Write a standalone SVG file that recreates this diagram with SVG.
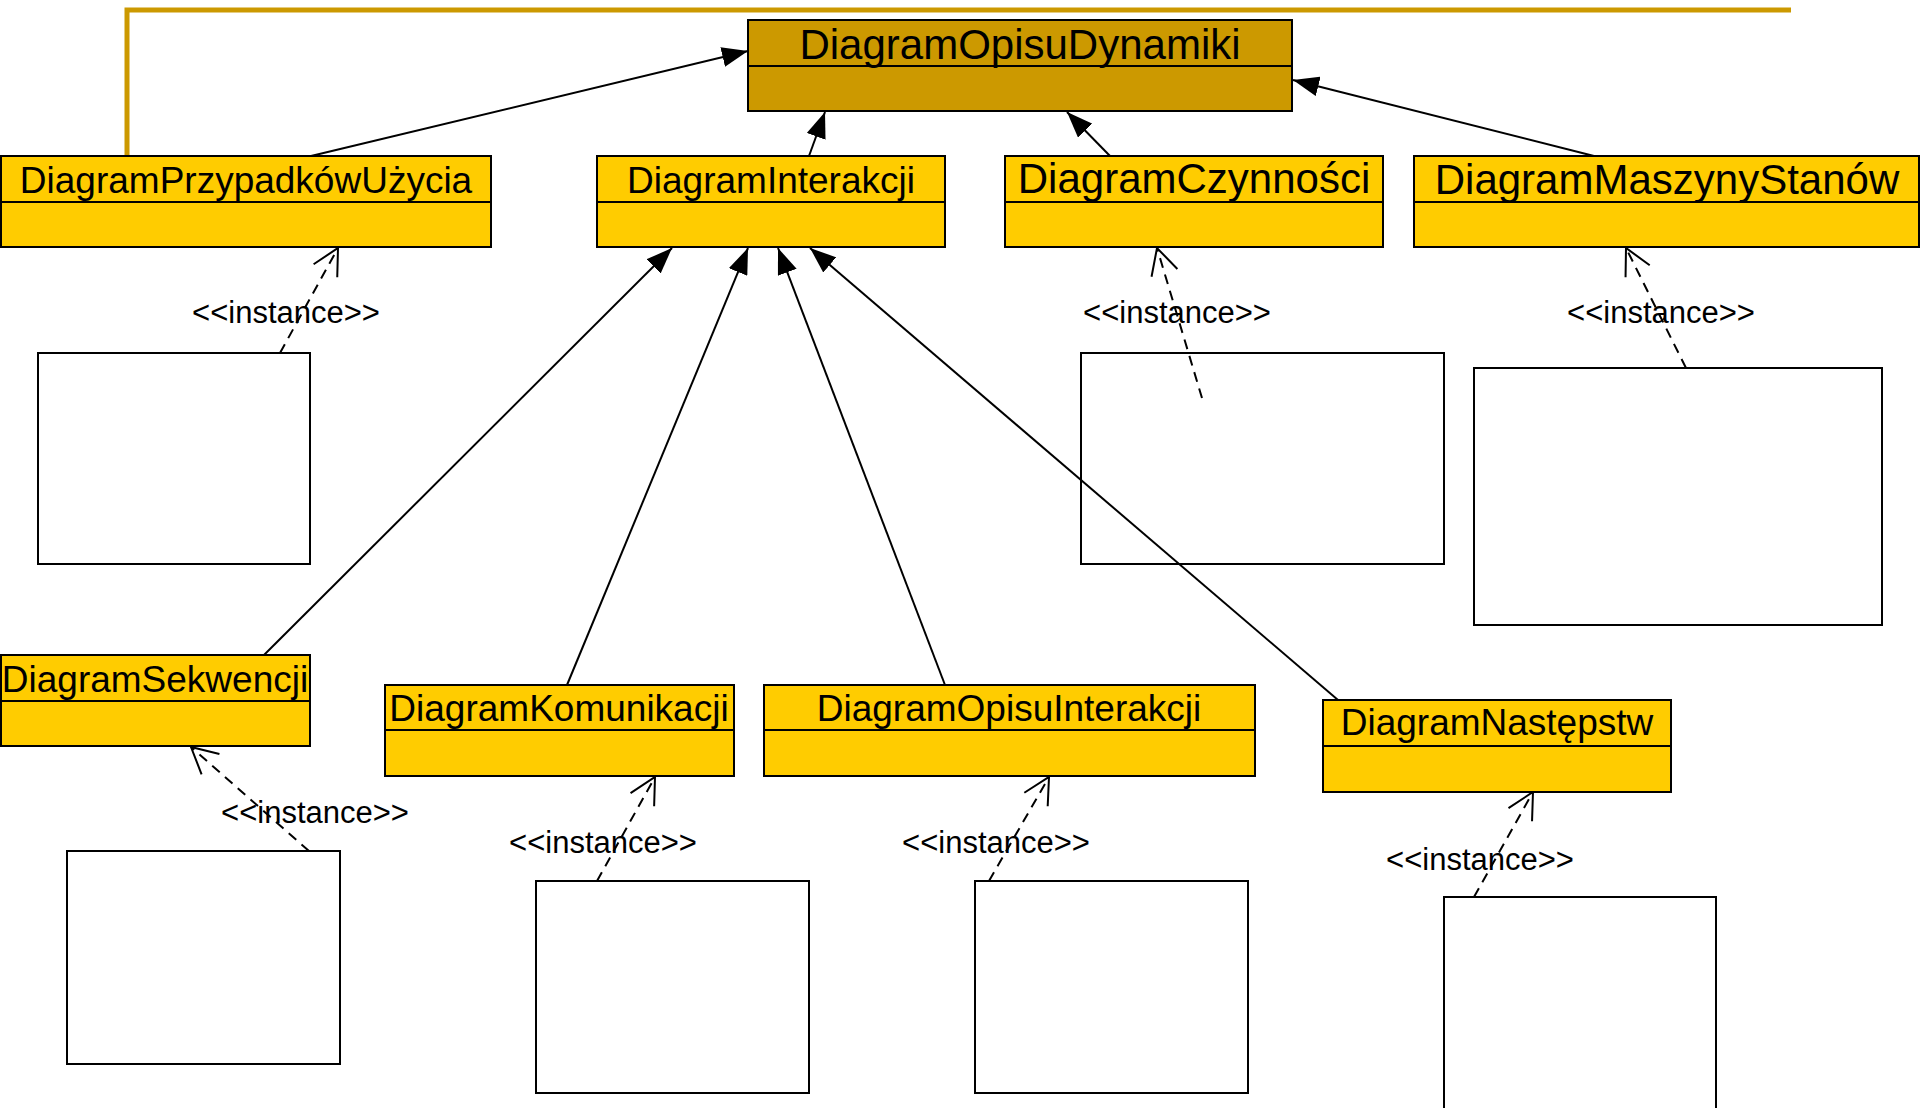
<svg xmlns="http://www.w3.org/2000/svg" width="1920" height="1108" viewBox="0 0 1920 1108">
  <style>
    .cls { fill: #FFCC00; stroke: #000; stroke-width: 2; }
    .root { fill: #CC9900; stroke: #000; stroke-width: 2; }
    .div { stroke: #000; stroke-width: 2; fill: none; }
    .inst { fill: #fff; stroke: #000; stroke-width: 2; }
    .name { font-family: "Liberation Sans", Arial, sans-serif; fill: #000; text-anchor: middle; }
    .n37 { font-size: 37px; }
    .n42 { font-size: 42px; }
    .lbl { font-family: "Liberation Sans", Arial, sans-serif; font-size: 31px; fill: #000; text-anchor: middle; }
    .gen { stroke: #000; stroke-width: 2; fill: none; marker-end: url(#tri); }
    .dep { stroke: #000; stroke-width: 2; fill: none; stroke-dasharray: 10 7; marker-end: url(#vee); }
    .frame { stroke: #CC9900; stroke-width: 5; fill: none; }
  </style>
  <defs>
    <!-- filled triangle for generalisation -->
    <marker id="tri" viewBox="0 0 26 20" refX="26" refY="10" markerWidth="26" markerHeight="20" markerUnits="userSpaceOnUse" orient="auto">
      <path d="M0,0 L26,10 L0,20 z" fill="#000"/>
    </marker>
    <!-- open arrowhead for instance dependencies -->
    <marker id="vee" viewBox="0 0 30 30" refX="28" refY="15" markerWidth="30" markerHeight="30" markerUnits="userSpaceOnUse" orient="auto">
      <path d="M2,1.5 L28,15 L2,28.5" fill="none" stroke="#000" stroke-width="2"/>
    </marker>
  </defs>

  <rect width="1920" height="1108" fill="#fff"/>

  <!-- instance objects -->
  <g id="obj-przypadki"><rect class="inst" x="38" y="353" width="272" height="211"/></g>
  <g id="obj-czynnosci"><rect class="inst" x="1081" y="353" width="363" height="211"/></g>
  <g id="obj-maszyna"><rect class="inst" x="1474" y="368" width="408" height="257"/></g>
  <g id="obj-sekwencja"><rect class="inst" x="67" y="851" width="273" height="213"/></g>
  <g id="obj-komunikacja"><rect class="inst" x="536" y="881" width="273" height="212"/></g>
  <g id="obj-opisinterakcji"><rect class="inst" x="975" y="881" width="273" height="212"/></g>
  <g id="obj-nastepstwa"><rect class="inst" x="1444" y="897" width="272" height="230"/></g>

  <!-- connectors -->
  <g id="connectors">
    <polyline class="frame" points="127,156 127,10 1791,10"/>

    <line class="gen" x1="311" y1="156" x2="748" y2="51"/>
    <line class="gen" x1="809" y1="156" x2="825" y2="112"/>
    <line class="gen" x1="1110" y1="156" x2="1067" y2="112"/>
    <line class="gen" x1="1594" y1="156" x2="1293" y2="80"/>

    <line class="gen" x1="264" y1="655" x2="672" y2="248"/>
    <line class="gen" x1="567" y1="685" x2="748" y2="248"/>
    <line class="gen" x1="945" y1="685" x2="778" y2="248"/>
    <line class="gen" x1="1338" y1="700" x2="810" y2="248"/>

    <line class="dep" x1="280" y1="353" x2="338" y2="248"/>
    <line class="dep" x1="1202" y1="398" x2="1157" y2="248"/>
    <line class="dep" x1="1686" y1="368" x2="1626" y2="248"/>
    <line class="dep" x1="309" y1="851" x2="191" y2="747"/>
    <line class="dep" x1="597" y1="881" x2="655" y2="777"/>
    <line class="dep" x1="989" y1="881" x2="1049" y2="777"/>
    <line class="dep" x1="1474" y1="897" x2="1533" y2="792"/>

    <text class="lbl" x="286" y="323">&lt;&lt;instance&gt;&gt;</text>
    <text class="lbl" x="1177" y="323">&lt;&lt;instance&gt;&gt;</text>
    <text class="lbl" x="1661" y="323">&lt;&lt;instance&gt;&gt;</text>
    <text class="lbl" x="315" y="823">&lt;&lt;instance&gt;&gt;</text>
    <text class="lbl" x="603" y="853">&lt;&lt;instance&gt;&gt;</text>
    <text class="lbl" x="996" y="853">&lt;&lt;instance&gt;&gt;</text>
    <text class="lbl" x="1480" y="870">&lt;&lt;instance&gt;&gt;</text>
  </g>

  <!-- classes -->
  <g id="DiagramOpisuDynamiki">
    <rect class="root" x="748" y="20" width="544" height="91"/>
    <line class="div" x1="748" y1="66" x2="1292" y2="66"/>
    <text class="name n42" x="1020" y="59">DiagramOpisuDynamiki</text>
  </g>
  <g id="DiagramPrzypadkowUzycia">
    <rect class="cls" x="1" y="156" width="490" height="91"/>
    <line class="div" x1="1" y1="202" x2="491" y2="202"/>
    <text class="name n37" x="246" y="193">DiagramPrzypadkówUżycia</text>
  </g>
  <g id="DiagramInterakcji">
    <rect class="cls" x="597" y="156" width="348" height="91"/>
    <line class="div" x1="597" y1="202" x2="945" y2="202"/>
    <text class="name n37" x="771" y="193">DiagramInterakcji</text>
  </g>
  <g id="DiagramCzynnosci">
    <rect class="cls" x="1005" y="156" width="378" height="91"/>
    <line class="div" x1="1005" y1="202" x2="1383" y2="202"/>
    <text class="name n42" x="1194" y="193">DiagramCzynności</text>
  </g>
  <g id="DiagramMaszynyStanow">
    <rect class="cls" x="1414" y="156" width="505" height="91"/>
    <line class="div" x1="1414" y1="202" x2="1919" y2="202"/>
    <text class="name n42" x="1667" y="194">DiagramMaszynyStanów</text>
  </g>
  <g id="DiagramSekwencji">
    <rect class="cls" x="1" y="655" width="309" height="91"/>
    <line class="div" x1="1" y1="701" x2="310" y2="701"/>
    <text class="name n37" x="155" y="692">DiagramSekwencji</text>
  </g>
  <g id="DiagramKomunikacji">
    <rect class="cls" x="385" y="685" width="349" height="91"/>
    <line class="div" x1="385" y1="730" x2="734" y2="730"/>
    <text class="name n37" x="559" y="721">DiagramKomunikacji</text>
  </g>
  <g id="DiagramOpisuInterakcji">
    <rect class="cls" x="764" y="685" width="491" height="91"/>
    <line class="div" x1="764" y1="730" x2="1255" y2="730"/>
    <text class="name n37" x="1009" y="721">DiagramOpisuInterakcji</text>
  </g>
  <g id="DiagramNastepstw">
    <rect class="cls" x="1323" y="700" width="348" height="92"/>
    <line class="div" x1="1323" y1="746" x2="1671" y2="746"/>
    <text class="name n37" x="1497" y="735">DiagramNastępstw</text>
  </g>
</svg>
